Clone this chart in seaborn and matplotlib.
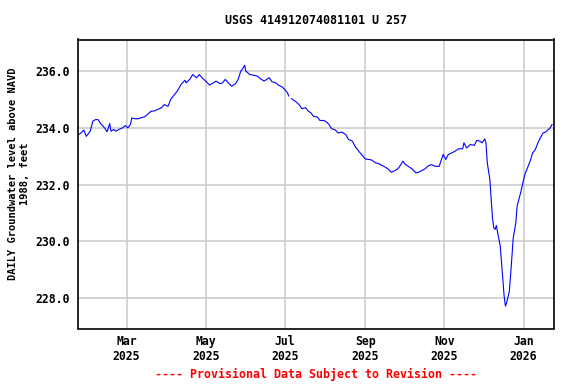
import numpy as np
import pandas as pd
import seaborn as sns
import matplotlib.pyplot as plt
import matplotlib.dates as mdates
from matplotlib.ticker import FormatStrFormatter

# daily groundwater level readings (NaN = gap in record)
dates = [
    "2025-01-23", "2025-01-25", "2025-01-27", "2025-01-29",
    "2025-02-01", "2025-02-03", "2025-02-05", "2025-02-07", "2025-02-09", "2025-02-12", "2025-02-14",
    "2025-02-16", "2025-02-17", "2025-02-19", "2025-02-21", "2025-02-23", "2025-02-26", "2025-02-28",
    "2025-03-02", "2025-03-04", "2025-03-05", "2025-03-07", "2025-03-10", "2025-03-12", "2025-03-15",
    "2025-03-17", "2025-03-20", "2025-03-22", "2025-03-25", "2025-03-28", "2025-03-30",
    "2025-04-02", "2025-04-04", "2025-04-07", "2025-04-09", "2025-04-12", "2025-04-15", "2025-04-16",
    "2025-04-19", "2025-04-21", "2025-04-24", "2025-04-26", "2025-04-29",
    "2025-05-01", "2025-05-04", "2025-05-07", "2025-05-09", "2025-05-12", "2025-05-14", "2025-05-16",
    "2025-05-19", "2025-05-21", "2025-05-24", "2025-05-26", "2025-05-28", "2025-05-30", "2025-05-31",
    "2025-06-01", "2025-06-04", "2025-06-07", "2025-06-10", "2025-06-12", "2025-06-15", "2025-06-17",
    "2025-06-19", "2025-06-21", "2025-06-24", "2025-06-26", "2025-06-29",
    "2025-07-01", "2025-07-03", "2025-07-04", "2025-07-05", "2025-07-06", "2025-07-09", "2025-07-12",
    "2025-07-14", "2025-07-17", "2025-07-19", "2025-07-21", "2025-07-23", "2025-07-26", "2025-07-28", "2025-07-31",
    "2025-08-02", "2025-08-04", "2025-08-06", "2025-08-09", "2025-08-11", "2025-08-14", "2025-08-17",
    "2025-08-19", "2025-08-22", "2025-08-24", "2025-08-27", "2025-08-29",
    "2025-09-01", "2025-09-04", "2025-09-06", "2025-09-09", "2025-09-11", "2025-09-14", "2025-09-16",
    "2025-09-19", "2025-09-21", "2025-09-23", "2025-09-26", "2025-09-28", "2025-09-30",
    "2025-10-02", "2025-10-04", "2025-10-07", "2025-10-10", "2025-10-12", "2025-10-15", "2025-10-17",
    "2025-10-20", "2025-10-22", "2025-10-25", "2025-10-28", "2025-10-29", "2025-10-31",
    "2025-11-02", "2025-11-04", "2025-11-07", "2025-11-09", "2025-11-12", "2025-11-15", "2025-11-16",
    "2025-11-18", "2025-11-21", "2025-11-24", "2025-11-26", "2025-11-28", "2025-11-30",
    "2025-12-02", "2025-12-03", "2025-12-04", "2025-12-06", "2025-12-07", "2025-12-08", "2025-12-09",
    "2025-12-10", "2025-12-11", "2025-12-12", "2025-12-14", "2025-12-15", "2025-12-16", "2025-12-17",
    "2025-12-18", "2025-12-19", "2025-12-21", "2025-12-22", "2025-12-23", "2025-12-24", "2025-12-26",
    "2025-12-27", "2025-12-30",
    "2026-01-01", "2026-01-02", "2026-01-04", "2026-01-06", "2026-01-08", "2026-01-10", "2026-01-12",
    "2026-01-14", "2026-01-16", "2026-01-18", "2026-01-20", "2026-01-21", "2026-01-23",
]
levels = [
    233.77, 233.83, 233.93, 233.71,
    233.89, 234.24, 234.30, 234.30, 234.16, 234.01, 233.87,
    234.16, 233.89, 233.95, 233.89, 233.95, 234.01, 234.09,
    234.01, 234.13, 234.36, 234.33, 234.33, 234.36, 234.40,
    234.48, 234.60, 234.60, 234.66, 234.72, 234.83,
    234.77, 235.01, 235.19, 235.30, 235.54, 235.69, 235.60,
    235.74, 235.89, 235.78, 235.89, 235.74,
    235.66, 235.52, 235.60, 235.66, 235.57, 235.60, 235.72,
    235.57, 235.48, 235.57, 235.72, 236.01, 236.13, 236.22,
    236.01, 235.89, 235.87, 235.83, 235.75, 235.66, 235.72,
    235.78, 235.64, 235.60, 235.52, 235.45,
    235.36, 235.25, 235.13, np.nan, 235.04, 234.95, 234.83,
    234.69, 234.72, 234.60, 234.54, 234.42, 234.39, 234.27, 234.27,
    234.22, 234.13, 233.98, 233.93, 233.83, 233.86, 233.77,
    233.60, 233.54, 233.36, 233.18, 233.07,
    232.91, 232.89, 232.87, 232.77, 232.75, 232.68, 232.63,
    232.54, 232.44, 232.48, 232.56, 232.68, 232.83,
    232.71, 232.65, 232.56, 232.42, 232.44, 232.51, 232.56,
    232.68, 232.71, 232.65, 232.65, 232.80, 233.07,
    232.89, 233.07, 233.13, 233.18, 233.27, 233.27, 233.48,
    233.30, 233.42, 233.39, 233.57, 233.54, 233.48,
    233.62, 233.48, 232.77, 232.18, 231.48, 230.83, 230.48,
    230.42, 230.56, 230.30, 229.83, 229.24, 228.65, 228.06,
    227.71, 227.85, 228.24, 228.83, 229.47, 230.12, 230.65,
    231.24, 231.77,
    232.18, 232.36, 232.60, 232.83, 233.13, 233.24, 233.48,
    233.66, 233.83, 233.86, 233.95, 233.98, 234.13,
]
yticks = [228, 230, 232, 234, 236]

title = "USGS 414912074081101 U 257"
ylabel = "DAILY Groundwater level above NAVD\n1988, feet"
footer = "---- Provisional Data Subject to Revision ----"

df = pd.DataFrame({"date": pd.to_datetime(dates), "level": levels})
df["seg"] = df["level"].isna().cumsum()
df = df.dropna()

sns.set_theme(style="white")
plt.rcParams["font.family"] = ["DejaVu Sans Mono"]
plt.rcParams["font.weight"] = "bold"

fig = plt.figure(figsize=(5.76, 3.84), dpi=100)
ax = fig.add_axes([78 / 576, 1 - 328.5 / 384, 476 / 576, 289 / 384])

sns.lineplot(data=df, x="date", y="level", units="seg", estimator=None,
             color="#0000ff", linewidth=0.8, ax=ax)

ax.set_xlim(pd.Timestamp("2025-01-22 14:00"), pd.Timestamp("2026-01-24 10:00"))
ax.set_ylim(226.92, 237.13)
ax.set_yticks(yticks)
ax.yaxis.set_major_formatter(FormatStrFormatter("%.1f"))
ax.xaxis.set_major_locator(mdates.MonthLocator(bymonth=[1, 3, 5, 7, 9, 11]))
ax.xaxis.set_major_formatter(mdates.DateFormatter("%b\n%Y"))

ax.grid(True, color="#cccccc", linewidth=1.2)
ax.set_axisbelow(True)
for s in ax.spines.values():
    s.set_color("black")
    s.set_linewidth(1.2)
ax.tick_params(length=0, labelsize=8.3, colors="black")
ax.tick_params(axis="x", pad=5)
ax.tick_params(axis="y", pad=6)
for lab in ax.get_xticklabels() + ax.get_yticklabels():
    lab.set_fontweight("bold")
ax.set_xlabel("")
ax.set_ylabel("")

fig.text(316 / 576, 1 - 20.5 / 384, title, ha="center", va="center",
         fontsize=8.4, fontweight="bold", color="black")
fig.text(19 / 576, 1 - 174 / 384, ylabel, ha="center", va="center", rotation=90,
         multialignment="center", fontsize=7.5, fontweight="bold", color="black",
         linespacing=1.35)
fig.text(316 / 576, 1 - 374.5 / 384, footer, ha="center", va="center",
         fontsize=8.4, fontweight="bold", color="#ff0000")

fig.savefig("out.png", dpi=100)
